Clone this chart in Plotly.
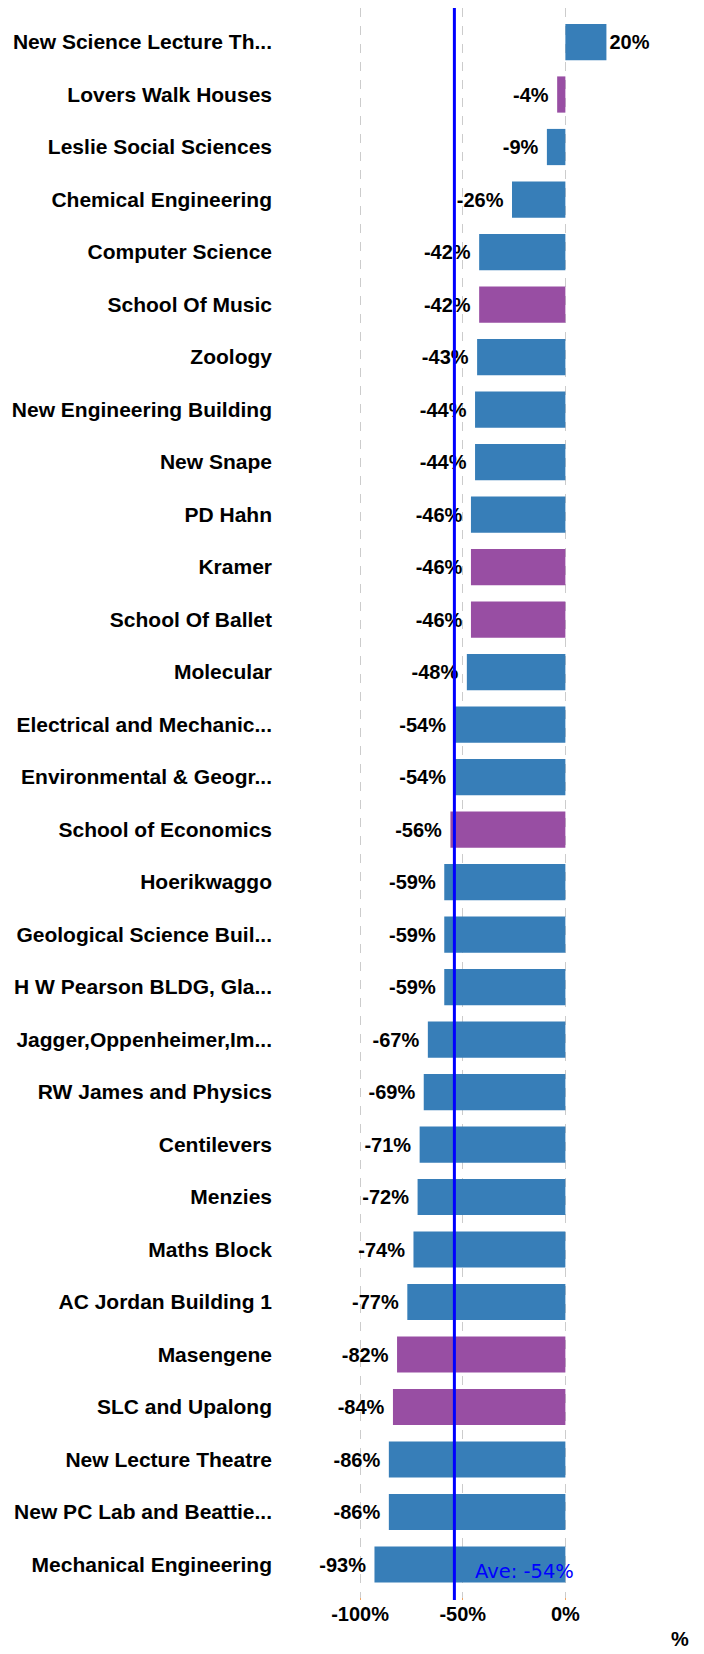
import plotly.graph_objects as go

## Data
buildings = [
    "New Science Lecture Th...", "Lovers Walk Houses", "Leslie Social Sciences",
    "Chemical Engineering", "Computer Science", "School Of Music", "Zoology",
    "New Engineering Building", "New Snape", "PD Hahn", "Kramer", "School Of Ballet",
    "Molecular", "Electrical and Mechanic...", "Environmental & Geogr...",
    "School of Economics", "Hoerikwaggo", "Geological Science Buil...",
    "H W Pearson BLDG, Gla...", "Jagger,Oppenheimer,Im...", "RW James and Physics",
    "Centilevers", "Menzies", "Maths Block", "AC Jordan Building 1", "Masengene",
    "SLC and Upalong", "New Lecture Theatre", "New PC Lab and Beattie...",
    "Mechanical Engineering",
]
change_pct = [20, -4, -9, -26, -42, -42, -43, -44, -44, -46, -46, -46, -48, -54, -54,
              -56, -59, -59, -59, -67, -69, -71, -72, -74, -77, -82, -84, -86, -86, -93]
is_residence = [False, True, False, False, False, True, False, False, False, False, True, True,
                False, False, False, True, False, False, False, False, False, False, False,
                False, False, True, True, False, False, False]

x_ticks = [-100, -50, 0]
x_tick_labels = ["-100%", "-50%", "0%"]

BLUE = "#377eb8"
PURPLE = "#984ea3"
FONT = "Liberation Sans, Arial, sans-serif"

average = sum(change_pct) / len(change_pct)
bar_colours = [PURPLE if r else BLUE for r in is_residence]

##
fig = go.Figure(go.Bar(
    x=change_pct,
    y=buildings,
    orientation="h",
    marker_color=bar_colours,
    marker_line_width=0,
    # nbsp keeps the outside labels a little further off the bar end
    texttemplate="%{x:.0f}%\u00a0",
    textposition="outside",
    cliponaxis=False,
    textfont=dict(family=FONT, size=20, color="black", weight="bold"),
))

# average line
fig.add_shape(type="line", xref="x", yref="paper", x0=average, x1=average, y0=0, y1=1,
              line=dict(color="#0000ff", width=3), layer="above")
fig.add_annotation(x=average, y=buildings[-1], xref="x", yref="y", text=f"Ave: {average:.0f}%",
                   showarrow=False, xanchor="left", xshift=19, yshift=-7,
                   font=dict(family="DejaVu Sans", size=19.5, color="#0000ff"))
fig.add_annotation(x=1.059, y=0, xref="paper", yref="paper", text="%", showarrow=False,
                   yshift=-52, font=dict(family=FONT, size=20, color="black", weight="bold"))

n = len(buildings)
fig.update_layout(
    width=704, height=1654,
    margin=dict(l=270, r=44, t=0, b=62),
    plot_bgcolor="white", paper_bgcolor="white",
    bargap=0.31,
    showlegend=False,
    xaxis=dict(
        range=[-140, 50], tickvals=x_ticks, ticktext=x_tick_labels,
        showgrid=True, gridcolor="#cccccc", griddash="dash", gridwidth=1,
        zeroline=False, ticks="inside", ticklen=2, tickcolor="#f4a460",
        automargin=False,
        tickfont=dict(family=FONT, size=20, color="black", weight="bold"),
    ),
    yaxis=dict(
        categoryorder="array", categoryarray=buildings,
        range=[n - 1 + 0.676, -0.648], showgrid=False, zeroline=False,
        automargin=False, ticklabelstandoff=5,
        tickfont=dict(family=FONT, size=21, color="black", weight="bold"),
    ),
)

fig.write_html("out.html")
